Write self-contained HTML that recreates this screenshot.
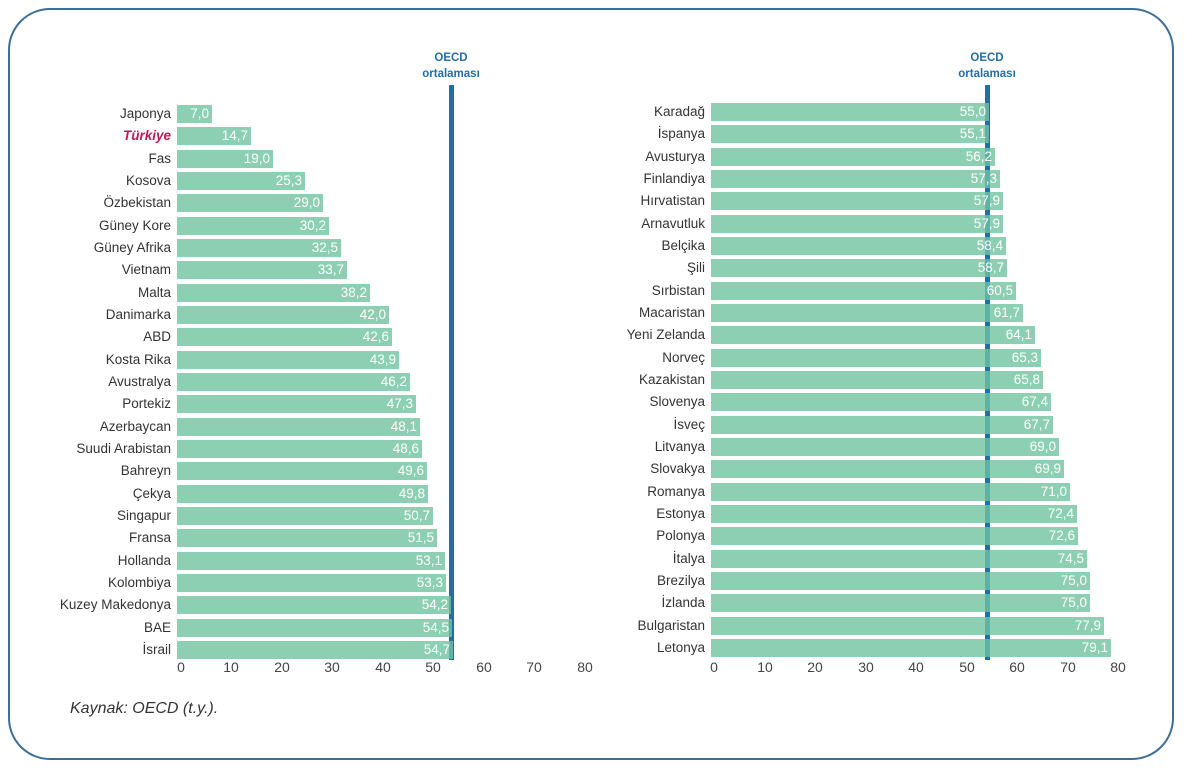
<!DOCTYPE html>
<html><head><meta charset="utf-8"><style>
body{margin:0;width:1185px;height:770px;background:#fff;position:relative;overflow:hidden;font-family:"Liberation Sans",sans-serif;}
.frame{position:absolute;left:8px;top:8px;width:1166px;height:752px;border:2px solid #3d6f96;border-radius:42px;box-sizing:border-box;}
.r{position:absolute;height:18px;z-index:2;}
.lb{position:absolute;right:100%;margin-right:6px;top:0;line-height:18px;font-size:13.5px;color:#333;white-space:nowrap;}
.b{position:absolute;left:0;top:0;height:18px;background:rgba(112,195,160,0.8);color:#fff;font-size:13.5px;line-height:18px;text-align:right;box-sizing:border-box;padding-right:3px;}
.L .r{left:177px}.R .r{left:711px}
.line{position:absolute;width:5px;background:#1f6fa8;z-index:1;}
.t{position:absolute;top:659px;width:40px;margin-left:-20px;text-align:center;font-size:14px;color:#444;}
.oe{position:absolute;width:100px;margin-left:-50px;text-align:center;color:#1f6fa8;font-weight:bold;font-size:11.5px;line-height:16px;}
</style></head><body>
<div class="frame"></div>
<div class="L">
<div class="r" style="top:105px"><span class="lb">Japonya</span><div class="b" style="width:35px">7,0</div></div>
<div class="r" style="top:127.3px"><span class="lb" style="color:#c2185b;font-style:italic;font-weight:bold">Türkiye</span><div class="b" style="width:74px">14,7</div></div>
<div class="r" style="top:149.7px"><span class="lb">Fas</span><div class="b" style="width:96px">19,0</div></div>
<div class="r" style="top:172px"><span class="lb">Kosova</span><div class="b" style="width:128px">25,3</div></div>
<div class="r" style="top:194.3px"><span class="lb">Özbekistan</span><div class="b" style="width:146px">29,0</div></div>
<div class="r" style="top:216.7px"><span class="lb">Güney Kore</span><div class="b" style="width:152px">30,2</div></div>
<div class="r" style="top:239px"><span class="lb">Güney Afrika</span><div class="b" style="width:164px">32,5</div></div>
<div class="r" style="top:261.3px"><span class="lb">Vietnam</span><div class="b" style="width:170px">33,7</div></div>
<div class="r" style="top:283.7px"><span class="lb">Malta</span><div class="b" style="width:193px">38,2</div></div>
<div class="r" style="top:306px"><span class="lb">Danimarka</span><div class="b" style="width:212px">42,0</div></div>
<div class="r" style="top:328.3px"><span class="lb">ABD</span><div class="b" style="width:215px">42,6</div></div>
<div class="r" style="top:350.7px"><span class="lb">Kosta Rika</span><div class="b" style="width:222px">43,9</div></div>
<div class="r" style="top:373px"><span class="lb">Avustralya</span><div class="b" style="width:233px">46,2</div></div>
<div class="r" style="top:395.3px"><span class="lb">Portekiz</span><div class="b" style="width:239px">47,3</div></div>
<div class="r" style="top:417.7px"><span class="lb">Azerbaycan</span><div class="b" style="width:243px">48,1</div></div>
<div class="r" style="top:440px"><span class="lb">Suudi Arabistan</span><div class="b" style="width:245px">48,6</div></div>
<div class="r" style="top:462.3px"><span class="lb">Bahreyn</span><div class="b" style="width:250px">49,6</div></div>
<div class="r" style="top:484.7px"><span class="lb">Çekya</span><div class="b" style="width:251px">49,8</div></div>
<div class="r" style="top:507px"><span class="lb">Singapur</span><div class="b" style="width:256px">50,7</div></div>
<div class="r" style="top:529.3px"><span class="lb">Fransa</span><div class="b" style="width:260px">51,5</div></div>
<div class="r" style="top:551.7px"><span class="lb">Hollanda</span><div class="b" style="width:268px">53,1</div></div>
<div class="r" style="top:574px"><span class="lb">Kolombiya</span><div class="b" style="width:269px">53,3</div></div>
<div class="r" style="top:596.3px"><span class="lb">Kuzey Makedonya</span><div class="b" style="width:274px">54,2</div></div>
<div class="r" style="top:618.7px"><span class="lb">BAE</span><div class="b" style="width:275px">54,5</div></div>
<div class="r" style="top:641px"><span class="lb">İsrail</span><div class="b" style="width:276px">54,7</div></div>
</div>
<div class="line" style="left:449px;top:85px;height:575px"></div>
<div class="oe" style="left:451px;top:50px">OECD<br>ortalaması</div>
<div class="t" style="left:181px">0</div><div class="t" style="left:231px">10</div><div class="t" style="left:282px">20</div><div class="t" style="left:332px">30</div><div class="t" style="left:383px">40</div><div class="t" style="left:433px">50</div><div class="t" style="left:484px">60</div><div class="t" style="left:534px">70</div><div class="t" style="left:585px">80</div>

<div class="R">
<div class="r" style="top:103px"><span class="lb">Karadağ</span><div class="b" style="width:278px">55,0</div></div>
<div class="r" style="top:125.3px"><span class="lb">İspanya</span><div class="b" style="width:278px">55,1</div></div>
<div class="r" style="top:147.7px"><span class="lb">Avusturya</span><div class="b" style="width:284px">56,2</div></div>
<div class="r" style="top:170px"><span class="lb">Finlandiya</span><div class="b" style="width:289px">57,3</div></div>
<div class="r" style="top:192.3px"><span class="lb">Hırvatistan</span><div class="b" style="width:292px">57,9</div></div>
<div class="r" style="top:214.7px"><span class="lb">Arnavutluk</span><div class="b" style="width:292px">57,9</div></div>
<div class="r" style="top:237px"><span class="lb">Belçika</span><div class="b" style="width:295px">58,4</div></div>
<div class="r" style="top:259.3px"><span class="lb">Şili</span><div class="b" style="width:296px">58,7</div></div>
<div class="r" style="top:281.7px"><span class="lb">Sırbistan</span><div class="b" style="width:305px">60,5</div></div>
<div class="r" style="top:304px"><span class="lb">Macaristan</span><div class="b" style="width:312px">61,7</div></div>
<div class="r" style="top:326.3px"><span class="lb">Yeni Zelanda</span><div class="b" style="width:324px">64,1</div></div>
<div class="r" style="top:348.7px"><span class="lb">Norveç</span><div class="b" style="width:330px">65,3</div></div>
<div class="r" style="top:371px"><span class="lb">Kazakistan</span><div class="b" style="width:332px">65,8</div></div>
<div class="r" style="top:393.3px"><span class="lb">Slovenya</span><div class="b" style="width:340px">67,4</div></div>
<div class="r" style="top:415.7px"><span class="lb">İsveç</span><div class="b" style="width:342px">67,7</div></div>
<div class="r" style="top:438px"><span class="lb">Litvanya</span><div class="b" style="width:348px">69,0</div></div>
<div class="r" style="top:460.3px"><span class="lb">Slovakya</span><div class="b" style="width:353px">69,9</div></div>
<div class="r" style="top:482.7px"><span class="lb">Romanya</span><div class="b" style="width:359px">71,0</div></div>
<div class="r" style="top:505px"><span class="lb">Estonya</span><div class="b" style="width:366px">72,4</div></div>
<div class="r" style="top:527.3px"><span class="lb">Polonya</span><div class="b" style="width:367px">72,6</div></div>
<div class="r" style="top:549.7px"><span class="lb">İtalya</span><div class="b" style="width:376px">74,5</div></div>
<div class="r" style="top:572px"><span class="lb">Brezilya</span><div class="b" style="width:379px">75,0</div></div>
<div class="r" style="top:594.3px"><span class="lb">İzlanda</span><div class="b" style="width:379px">75,0</div></div>
<div class="r" style="top:616.7px"><span class="lb">Bulgaristan</span><div class="b" style="width:393px">77,9</div></div>
<div class="r" style="top:639px"><span class="lb">Letonya</span><div class="b" style="width:400px">79,1</div></div>
</div>
<div class="line" style="left:985px;top:85px;height:575px"></div>
<div class="oe" style="left:987px;top:50px">OECD<br>ortalaması</div>
<div class="t" style="left:714px">0</div><div class="t" style="left:765px">10</div><div class="t" style="left:815px">20</div><div class="t" style="left:866px">30</div><div class="t" style="left:916px">40</div><div class="t" style="left:967px">50</div><div class="t" style="left:1017px">60</div><div class="t" style="left:1068px">70</div><div class="t" style="left:1118px">80</div>

<div style="position:absolute;left:70px;top:700px;font-size:16px;font-style:italic;color:#333">Kaynak: OECD (t.y.).</div>
</body></html>
